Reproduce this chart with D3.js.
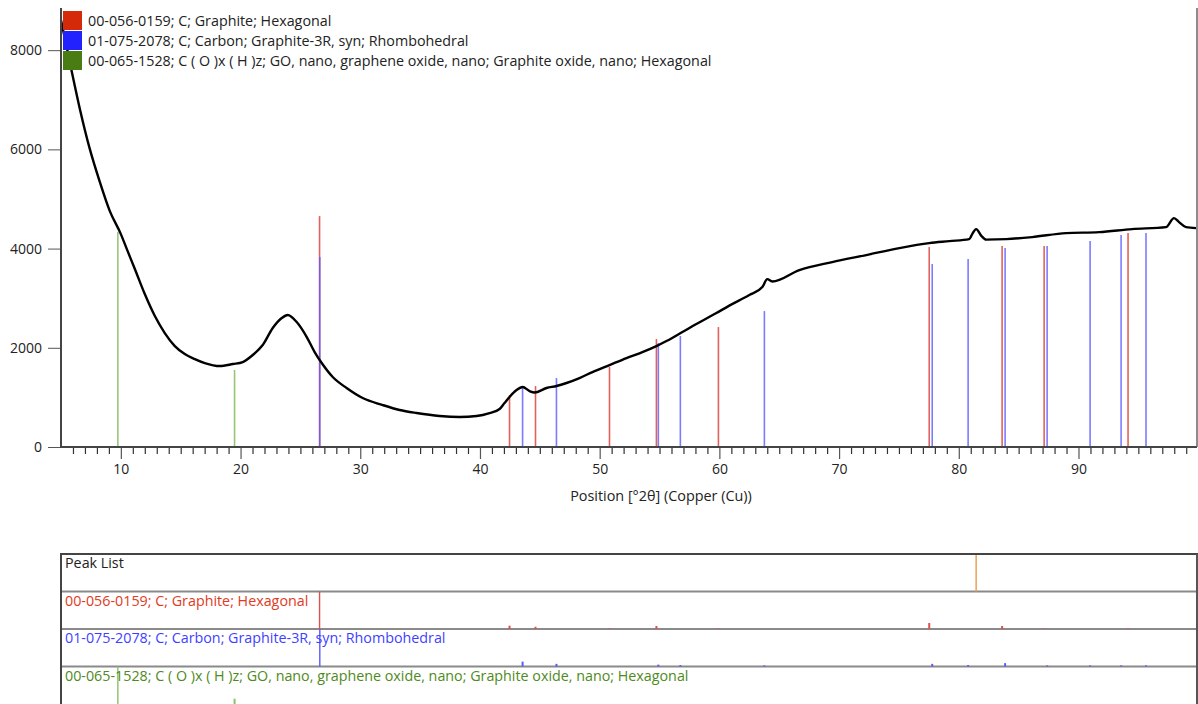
<!DOCTYPE html>
<html>
<head>
<meta charset="utf-8">
<script src="https://cdn.jsdelivr.net/npm/d3@7/dist/d3.min.js"></script>
<style>
  html, body { margin: 0; padding: 0; background: #fff; }
  svg { display: block; font-family: "Open Sans", "Noto Sans", sans-serif; }
</style>
</head>
<body>
<svg id="chart" width="1198" height="704"></svg>
<script>
// Measured pattern: position (°2θ) and intensity (counts)
const scanPos = [5.0, 5.41, 5.91, 6.58, 7.41, 8.25, 9.08, 10.0, 10.5, 11.17, 12.0, 12.84, 13.67, 14.51, 15.34, 16.18, 17.01, 18.26, 19.35, 20.18, 21.02, 21.85, 22.69, 23.44, 23.94, 24.69, 25.53, 26.19, 26.78, 27.7, 28.86, 30.2, 31.87, 33.29, 34.71, 36.63, 38.3, 39.72, 40.8, 41.64, 42.05, 42.47, 43.06, 43.56, 44.14, 44.56, 45.56, 46.39, 47.23, 48.31, 49.4, 50.82, 52.24, 53.57, 54.74, 55.58, 56.91, 58.08, 59.75, 60.83, 62.5, 63.59, 64.0, 64.42, 66.68, 69.43, 72.27, 75.03, 77.53, 79.2, 80.87, 81.12, 81.45, 81.87, 82.29, 83.96, 86.13, 88.96, 91.72, 94.47, 97.31, 97.98, 98.4, 98.98, 99.82];
const scanCounts = [8605, 8141, 7557, 6811, 6005, 5340, 4756, 4292, 3990, 3587, 3083, 2640, 2297, 2035, 1874, 1773, 1693, 1632, 1673, 1713, 1854, 2055, 2398, 2599, 2660, 2519, 2217, 1914, 1693, 1411, 1189, 987, 846, 746, 685, 625, 605, 625, 685, 766, 887, 1008, 1149, 1209, 1128, 1098, 1189, 1229, 1290, 1390, 1511, 1652, 1793, 1914, 2035, 2136, 2317, 2480, 2700, 2850, 3063, 3224, 3385, 3335, 3567, 3728, 3869, 4010, 4111, 4150, 4190, 4292, 4393, 4262, 4181, 4191, 4232, 4312, 4332, 4393, 4433, 4615, 4534, 4433, 4413];

// Reference patterns
const refNames = [
  "00-056-0159; C; Graphite; Hexagonal",
  "01-075-2078; C; Carbon; Graphite-3R, syn; Rhombohedral",
  "00-065-1528; C ( O )x ( H )z; GO, nano, graphene oxide, nano; Graphite oxide, nano; Hexagonal"
];
const refColors = ["#d42a0a", "#2222ff", "#4a7c14"];
const refStickColors = ["#e0504a", "#5a5aff", "#8cc068"];
const refTextColors = ["#e03a24", "#3f3fff", "#4f8a1c"];

// Graphite hexagonal: positions, heights in the pattern view, relative intensity (%)
const graphitePos = [26.6, 42.47, 44.64, 50.82, 54.74, 59.92, 77.53, 83.62, 87.13, 94.14];
const graphiteHeight = [4655, 1048, 1229, 1612, 2176, 2418, 4030, 4050, 4050, 4312];
const graphiteRel = [100, 9, 6, 2, 8, 2, 16, 8, 2, 2];

// Graphite-3R rhombohedral
const graphite3RPos = [26.62, 43.56, 46.39, 54.9, 56.74, 63.76, 77.78, 80.78, 83.87, 87.38, 90.97, 93.56, 95.64];
const graphite3RHeight = [3829, 1229, 1390, 2095, 2237, 2740, 3688, 3788, 4010, 4050, 4151, 4272, 4312];
const graphite3RRel = [100, 13, 7, 5, 4, 3, 7, 4, 9, 3, 3, 3, 3];

// Graphite oxide
const goPos = [9.75, 19.5];
const goHeight = [4332, 1552];
const goRel = [100, 14];

// Peak list
const peakListPos = [81.45];

// Axis ticks
const xMajorTicks = [10, 20, 30, 40, 50, 60, 70, 80, 90];
const xMinorTicks = d3.range(6, 100, 1).filter(v => v % 10 !== 0);
const yTicks = [0, 2000, 4000, 6000, 8000];

const svg = d3.select("#chart");
const plotLeft = 61, plotRight = 1197, plotTop = 8, plotBottom = 447;
const labelSize = 14.3;

const x = d3.scaleLinear().domain([5, 99.9]).range([plotLeft, plotRight]);
const y = d3.scaleLinear().domain([0, 8850]).range([plotBottom, plotTop]);

// ---------- pattern view ----------
const refs = [
  { pos: graphitePos, h: graphiteHeight, rel: graphiteRel },
  { pos: graphite3RPos, h: graphite3RHeight, rel: graphite3RRel },
  { pos: goPos, h: goHeight, rel: goRel }
];

// sticks (drawn green first, then red, then blue so the overlap tints purple)
const stickOrder = [2, 0, 1];
stickOrder.forEach(i => {
  const r = refs[i];
  svg.append("g").selectAll("line")
    .data(r.pos.map((p, k) => ({ p, v: r.h[k] })))
    .join("line")
    .attr("x1", d => x(d.p)).attr("x2", d => x(d.p))
    .attr("y1", y(0)).attr("y2", d => y(d.v))
    .attr("stroke", refStickColors[i])
    .attr("stroke-width", 1.6)
    .attr("stroke-opacity", i === 1 ? 0.8 : 0.9);
});

// measured pattern
const line = d3.line()
  .x((d, i) => x(scanPos[i]))
  .y(d => y(d))
  .curve(d3.curveMonotoneX);
svg.append("path")
  .attr("d", line(scanCounts))
  .attr("fill", "none")
  .attr("stroke", "#000")
  .attr("stroke-width", 2.4)
  .attr("stroke-linejoin", "round");

// y axis
const yAxis = d3.axisLeft(y).tickValues(yTicks).tickSize(13).tickPadding(6).tickFormat(d3.format("d"));
const gy = svg.append("g").attr("transform", `translate(${plotLeft},0)`).call(yAxis);
gy.select(".domain").remove();
gy.selectAll(".tick line").attr("stroke", "#555");
gy.selectAll("text").attr("font-size", 14).attr("fill", "#222").attr("font-family", "Open Sans, sans-serif");

// x axis: minor then major ticks
const xMinor = d3.axisBottom(x).tickValues(xMinorTicks).tickSize(7).tickFormat("");
const gxm = svg.append("g").attr("transform", `translate(0,${plotBottom})`).call(xMinor);
gxm.select(".domain").remove();
gxm.selectAll(".tick line").attr("stroke", "#333").attr("stroke-width", 1.2);

const xAxis = d3.axisBottom(x).tickValues(xMajorTicks).tickSize(12).tickPadding(5).tickFormat(d3.format("d"));
const gx = svg.append("g").attr("transform", `translate(0,${plotBottom})`).call(xAxis);
gx.select(".domain").remove();
gx.selectAll(".tick line").attr("stroke", "#555").attr("stroke-width", 1.2);
gx.selectAll("text").attr("font-size", 14).attr("fill", "#222").attr("font-family", "Open Sans, sans-serif");

// frame lines
svg.append("line").attr("x1", plotLeft).attr("x2", plotLeft).attr("y1", plotTop).attr("y2", plotBottom + 1)
  .attr("stroke", "#444").attr("stroke-width", 2);
svg.append("line").attr("x1", plotLeft).attr("x2", plotRight).attr("y1", plotBottom).attr("y2", plotBottom)
  .attr("stroke", "#444").attr("stroke-width", 2);
svg.append("line").attr("x1", plotRight).attr("x2", plotRight).attr("y1", plotTop).attr("y2", plotBottom)
  .attr("stroke", "#666").attr("stroke-width", 1.5);

// axis title
svg.append("text")
  .attr("x", 661).attr("y", 501)
  .attr("text-anchor", "middle")
  .attr("font-size", 14.4).attr("fill", "#222")
  .text("Position [°2θ] (Copper (Cu))");

// legend
const legend = svg.append("g");
refNames.forEach((name, i) => {
  legend.append("rect")
    .attr("x", 63).attr("y", 11 + i * 20).attr("width", 19).attr("height", 19)
    .attr("fill", refColors[i]);
  legend.append("text")
    .attr("x", 88).attr("y", 26 + i * 20)
    .attr("font-size", labelSize).attr("fill", "#222")
    .text(name);
});

// ---------- peak list / reference strip ----------
const stripTop = 554, rowH = 37.5;
const rows = ["Peak List"].concat(refNames);
const rowTextColors = ["#222"].concat(refTextColors);

// row separators
for (let r = 1; r < rows.length; r++) {
  svg.append("line")
    .attr("x1", plotLeft).attr("x2", plotRight)
    .attr("y1", stripTop + r * rowH).attr("y2", stripTop + r * rowH)
    .attr("stroke", "#8a8a8a").attr("stroke-width", 2);
}

// peak list markers
svg.append("g").selectAll("line").data(peakListPos).join("line")
  .attr("x1", d => x(d)).attr("x2", d => x(d))
  .attr("y1", stripTop).attr("y2", stripTop + rowH)
  .attr("stroke", "#f0a050").attr("stroke-width", 1.5);

// reference sticks in their rows (relative intensity scale)
const rel = d3.scaleLinear().domain([0, 100]).range([0, rowH]);
refs.forEach((r, i) => {
  const base = stripTop + (i + 2) * rowH;
  svg.append("g").selectAll("line")
    .data(r.pos.map((p, k) => ({ p, v: r.rel[k] })))
    .join("line")
    .attr("x1", d => x(d.p)).attr("x2", d => x(d.p))
    .attr("y1", base).attr("y2", d => base - rel(d.v))
    .attr("stroke", refStickColors[i])
    .attr("stroke-width", d => d.v >= 50 ? 1.4 : 2);
});

// row labels
rows.forEach((name, r) => {
  svg.append("text")
    .attr("x", 65).attr("y", stripTop + r * rowH + 14)
    .attr("font-size", labelSize).attr("fill", rowTextColors[r])
    .text(name);
});

// strip frame
svg.append("line").attr("x1", plotLeft - 1).attr("x2", plotRight + 1).attr("y1", stripTop).attr("y2", stripTop)
  .attr("stroke", "#444").attr("stroke-width", 2);
svg.append("line").attr("x1", plotLeft).attr("x2", plotLeft).attr("y1", stripTop).attr("y2", 720)
  .attr("stroke", "#444").attr("stroke-width", 2);
svg.append("line").attr("x1", plotRight).attr("x2", plotRight).attr("y1", stripTop).attr("y2", 720)
  .attr("stroke", "#555").attr("stroke-width", 2);
</script>
</body>
</html>
